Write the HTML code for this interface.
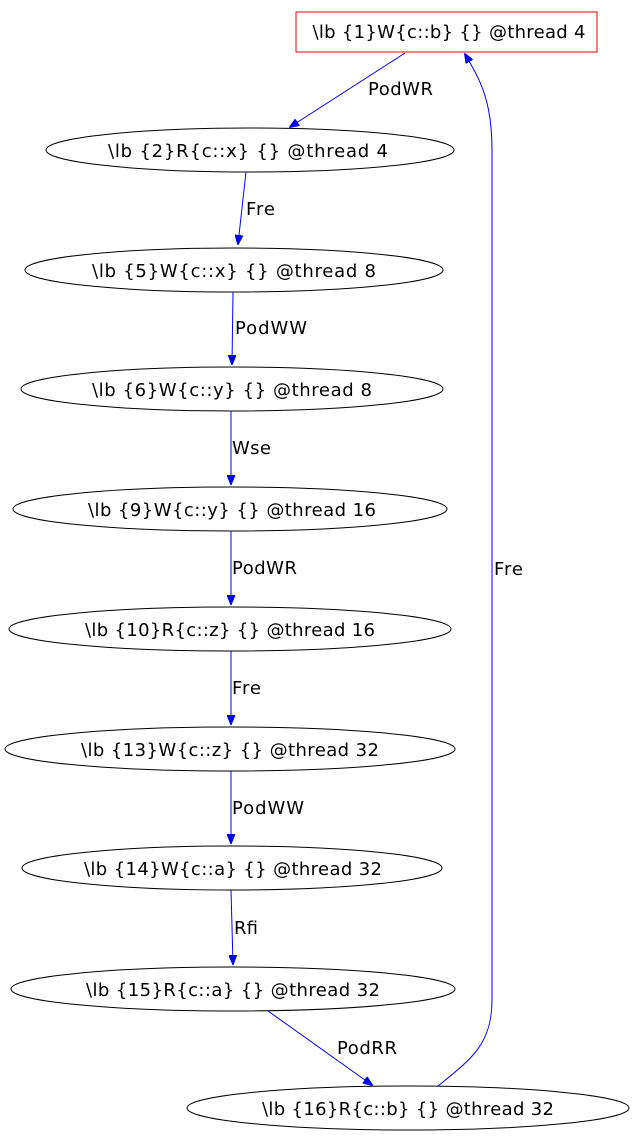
<!DOCTYPE html>
<html><head><meta charset="utf-8"><style>body{margin:0;background:#fff}svg{display:block}</style></head>
<body>
<svg width="635" height="1139" viewBox="0 0 635 1139" xmlns="http://www.w3.org/2000/svg" font-family="DejaVu Sans, Liberation Sans, sans-serif" font-size="18">
<defs><marker id="a" markerWidth="10" markerHeight="8" refX="9" refY="4" orient="auto" markerUnits="userSpaceOnUse"><path d="M0,0 L10,4 L0,8 z" fill="#00f" stroke="#00f"/></marker></defs>
<rect x="296" y="12" width="301" height="40" fill="none" stroke="#e00" stroke-width="1"/>
<text x="449" y="38" text-anchor="middle" textLength="273">\lb {1}W{c::b} {} @thread 4</text>
<g fill="none" stroke="#000">
<ellipse cx="250" cy="150" rx="204" ry="22"/>
<ellipse cx="234" cy="270" rx="209" ry="22"/>
<ellipse cx="232" cy="389" rx="211" ry="22"/>
<ellipse cx="230" cy="509" rx="217" ry="22"/>
<ellipse cx="230" cy="629" rx="221" ry="22"/>
<ellipse cx="230" cy="749" rx="225" ry="22"/>
<ellipse cx="232" cy="868" rx="210" ry="22"/>
<ellipse cx="233" cy="989" rx="222" ry="22"/>
<ellipse cx="408" cy="1108" rx="221" ry="22"/>
</g>
<g text-anchor="middle">
<text x="248" y="157" textLength="280">\lb {2}R{c::x} {} @thread 4</text>
<text x="234" y="277" textLength="284">\lb {5}W{c::x} {} @thread 8</text>
<text x="232" y="396" textLength="280">\lb {6}W{c::y} {} @thread 8</text>
<text x="232" y="516" textLength="288">\lb {9}W{c::y} {} @thread 16</text>
<text x="230" y="636" textLength="290">\lb {10}R{c::z} {} @thread 16</text>
<text x="230" y="756" textLength="298">\lb {13}W{c::z} {} @thread 32</text>
<text x="233" y="875" textLength="298">\lb {14}W{c::a} {} @thread 32</text>
<text x="233" y="996" textLength="294">\lb {15}R{c::a} {} @thread 32</text>
<text x="408" y="1115" textLength="292">\lb {16}R{c::b} {} @thread 32</text>
</g>
<g stroke="#00f" fill="none" marker-end="url(#a)">
<path d="M405,53 L290,127"/>
<path d="M246,172 L238,244"/>
<path d="M233,292 L232,364"/>
<path d="M231,531 L231,604"/>
<path d="M231,411 L231,484"/>
<path d="M231,651 L231,724"/>
<path d="M231,771 L231,843"/>
<path d="M231,890 L233,964"/>
<path d="M268,1011 L372,1085"/>
<path d="M438,1086 C470,1060 492,1045 492,1000 L492,150 C492,100 480,80 465,54"/>
</g>
<g fill="#000">
<text x="368" y="95" textLength="65">PodWR</text>
<text x="246" y="215" textLength="29">Fre</text>
<text x="235" y="334" textLength="72">PodWW</text>
<text x="232" y="454" textLength="39">Wse</text>
<text x="232" y="574" textLength="65">PodWR</text>
<text x="232" y="694" textLength="29">Fre</text>
<text x="232" y="814" textLength="72">PodWW</text>
<text x="234" y="934" textLength="24">Rfi</text>
<text x="337" y="1054" textLength="60">PodRR</text>
<text x="494" y="575" textLength="29">Fre</text>
</g>
</svg>
</body></html>
